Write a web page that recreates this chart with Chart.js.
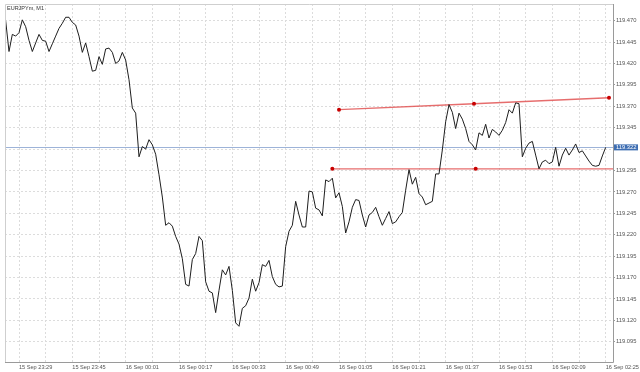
<!DOCTYPE html>
<html>
<head>
<meta charset="utf-8">
<script src="https://cdn.jsdelivr.net/npm/chart.js@4.4.1/dist/chart.umd.min.js"></script>
<style>
  html, body { margin: 0; padding: 0; background: #fff; }
  #chart { display: block; }
</style>
</head>
<body>
<canvas id="chart" width="640" height="372"></canvas>
<script>
// EURJPYm M1 - one close per minute, from 15 Sep 23:25 to 16 Sep 02:25
const title = "EURJPYm, M1";
const closes = [
  119.470, 119.434, 119.454, 119.452, 119.456, 119.471, 119.463, 119.447, 119.434, 119.444,
  119.454, 119.447, 119.446, 119.434, 119.443, 119.452, 119.461, 119.467, 119.474, 119.474,
  119.468, 119.465, 119.452, 119.433, 119.444, 119.428, 119.411, 119.412, 119.428, 119.419,
  119.437, 119.438, 119.433, 119.420, 119.423, 119.433, 119.424, 119.401, 119.368, 119.362,
  119.311, 119.323, 119.320, 119.331, 119.325, 119.314, 119.290, 119.264, 119.231, 119.234,
  119.230, 119.218, 119.209, 119.192, 119.162, 119.160, 119.191, 119.198, 119.218, 119.213,
  119.165, 119.154, 119.152, 119.129, 119.155, 119.179, 119.173, 119.183, 119.155, 119.117,
  119.113, 119.134, 119.137, 119.146, 119.168, 119.154, 119.164, 119.185, 119.183, 119.190,
  119.171, 119.162, 119.159, 119.160, 119.206, 119.224, 119.231, 119.259, 119.243, 119.229,
  119.229, 119.271, 119.270, 119.251, 119.249, 119.242, 119.284, 119.282, 119.286, 119.263,
  119.269, 119.253, 119.222, 119.235, 119.252, 119.261, 119.260, 119.243, 119.229, 119.243,
  119.246, 119.252, 119.241, 119.231, 119.239, 119.247, 119.233, 119.235, 119.241, 119.246,
  119.272, 119.296, 119.279, 119.287, 119.268, 119.264, 119.255, 119.257, 119.259, 119.291,
  119.291, 119.319, 119.352, 119.372, 119.363, 119.344, 119.362, 119.355, 119.344, 119.329,
  119.325, 119.319, 119.339, 119.336, 119.349, 119.333, 119.343, 119.340, 119.336, 119.342,
  119.351, 119.366, 119.362, 119.374, 119.373, 119.311, 119.321, 119.327, 119.329, 119.313,
  119.297, 119.305, 119.307, 119.303, 119.305, 119.322, 119.300, 119.313, 119.321, 119.313,
  119.319, 119.326, 119.316, 119.318, 119.312, 119.306, 119.301, 119.300, 119.301, 119.312,
  119.322
];

// time axis labels (bar index = minutes since 23:25)
const xTickBars = [4, 20, 36, 52, 68, 84, 100, 116, 132, 148, 164, 180];
const xTickLabels = ["15 Sep 23:29", "15 Sep 23:45", "16 Sep 00:01", "16 Sep 00:17", "16 Sep 00:33", "16 Sep 00:49",
  "16 Sep 01:05", "16 Sep 01:21", "16 Sep 01:37", "16 Sep 01:53", "16 Sep 02:09", "16 Sep 02:25"];
const gridStep = 8;

// price axis
const yTickValues = [119.095, 119.120, 119.145, 119.170, 119.195, 119.220, 119.245, 119.270,
  119.295, 119.320, 119.345, 119.370, 119.395, 119.420, 119.445, 119.470];
const yMin = 119.0713;
const yMax = 119.4895;

// trendlines: [bar, price] end points
const upperTrend = [[100, 119.366], [181, 119.380]];
const lowerTrend = [[98, 119.297], [184, 119.297]];

const lastPrice = closes[closes.length - 1];

function withMiddle(line) {
  const a = line[0], b = line[1];
  return [
    { x: a[0], y: a[1] },
    { x: (a[0] + b[0]) / 2, y: (a[1] + b[1]) / 2 },
    { x: b[0], y: b[1] }
  ];
}

const fontFamily = "'Liberation Sans', Arial, sans-serif";

// cadre, ligne du prix courant, titre
const mtDecor = {
  id: "mtDecor",
  beforeDatasetsDraw(chart) {
    const { ctx, chartArea } = chart;
    const py = Math.round(chart.scales.y.getPixelForValue(lastPrice)) + 0.5;
    ctx.save();
    ctx.strokeStyle = "#9db3d8";
    ctx.lineWidth = 1;
    ctx.beginPath();
    ctx.moveTo(chartArea.left, py);
    ctx.lineTo(chartArea.right, py);
    ctx.stroke();
    ctx.restore();
  },
  afterDraw(chart) {
    const { ctx, chartArea } = chart;
    ctx.save();
    // frame
    ctx.strokeStyle = "#cfcfcf";
    ctx.lineWidth = 1;
    ctx.beginPath();
    ctx.moveTo(chartArea.left + 0.5, chartArea.bottom);
    ctx.lineTo(chartArea.left + 0.5, chartArea.top + 0.5);
    ctx.lineTo(chartArea.right, chartArea.top + 0.5);
    ctx.stroke();
    ctx.strokeStyle = "#9a9a9a";
    ctx.beginPath();
    ctx.moveTo(chartArea.right + 0.5, chartArea.top);
    ctx.lineTo(chartArea.right + 0.5, chartArea.bottom + 0.5);
    ctx.lineTo(chartArea.left, chartArea.bottom + 0.5);
    ctx.stroke();

    // price label
    const py = chart.scales.y.getPixelForValue(lastPrice);
    ctx.fillStyle = "#3f6fb3";
    ctx.fillRect(chartArea.right + 1, py - 3, 24, 6);
    ctx.fillStyle = "#ffffff";
    ctx.font = "5.8px " + fontFamily;
    ctx.textBaseline = "middle";
    ctx.textAlign = "left";
    ctx.fillText(lastPrice.toFixed(3), chartArea.right + 3, py);

    // title
    ctx.fillStyle = "#333";
    ctx.font = "5.5px " + fontFamily;
    ctx.fillText(title, chartArea.left + 2, chartArea.top + 4);
    ctx.restore();
  }
};

const ctx = document.getElementById("chart");
new Chart(ctx, {
  type: "line",
  data: {
    datasets: [
      {
        data: closes.map((c, i) => ({ x: i, y: c })),
        borderColor: "#1e1e1e",
        borderWidth: 1,
        pointRadius: 0,
        borderJoinStyle: "round",
        tension: 0
      },
      {
        data: withMiddle(upperTrend),
        borderColor: "rgba(226, 84, 84, 0.85)",
        borderWidth: 1.3,
        pointRadius: 2,
        pointBorderWidth: 0,
        pointBackgroundColor: "#c80000"
      },
      {
        data: withMiddle(lowerTrend),
        borderColor: "rgba(226, 84, 84, 0.85)",
        borderWidth: 1.3,
        pointRadius: 2,
        pointBorderWidth: 0,
        pointBackgroundColor: "#c80000"
      }
    ]
  },
  options: {
    responsive: false,
    animation: false,
    devicePixelRatio: 1,
    layout: { padding: { left: 5, top: 4, right: 0, bottom: 0 } },
    plugins: { legend: { display: false }, tooltip: { enabled: false } },
    scales: {
      x: {
        type: "linear",
        min: -0.2,
        max: 182.2,
        afterBuildTicks(s) {
          const t = [];
          for (let b = xTickBars[0]; b <= s.max; b += gridStep) t.push({ value: b });
          s.ticks = t;
        },
        afterFit(s) {
          s.height = 10;
          s.paddingLeft = 0;
          s.paddingRight = 0;
        },
        grid: { color: "#dcdcdc", drawTicks: false },
        border: { display: false, dash: [2, 2] },
        ticks: {
          autoSkip: false,
          maxRotation: 0,
          align: "start",
          padding: 2.4,
          color: "#555",
          font: { size: 5.6, family: fontFamily },
          callback(value) {
            const k = xTickBars.indexOf(value);
            return k >= 0 ? xTickLabels[k] : "";
          }
        }
      },
      y: {
        position: "right",
        min: yMin,
        max: yMax,
        afterBuildTicks(s) {
          s.ticks = yTickValues.map(v => ({ value: v }));
        },
        afterFit(s) {
          s.width = 27;
          s.paddingTop = 0;
          s.paddingBottom = 0;
        },
        grid: { color: "#dcdcdc", tickLength: 2, tickColor: "#9a9a9a", tickBorderDash: [] },
        border: { display: false, dash: [2, 2] },
        ticks: {
          padding: 1,
          color: "#555",
          font: { size: 5.8, family: fontFamily },
          callback(value) {
            if (Math.abs(value - lastPrice) < 0.004) return "";
            return value.toFixed(3);
          }
        }
      }
    }
  },
  plugins: [mtDecor]
});
</script>
</body>
</html>
